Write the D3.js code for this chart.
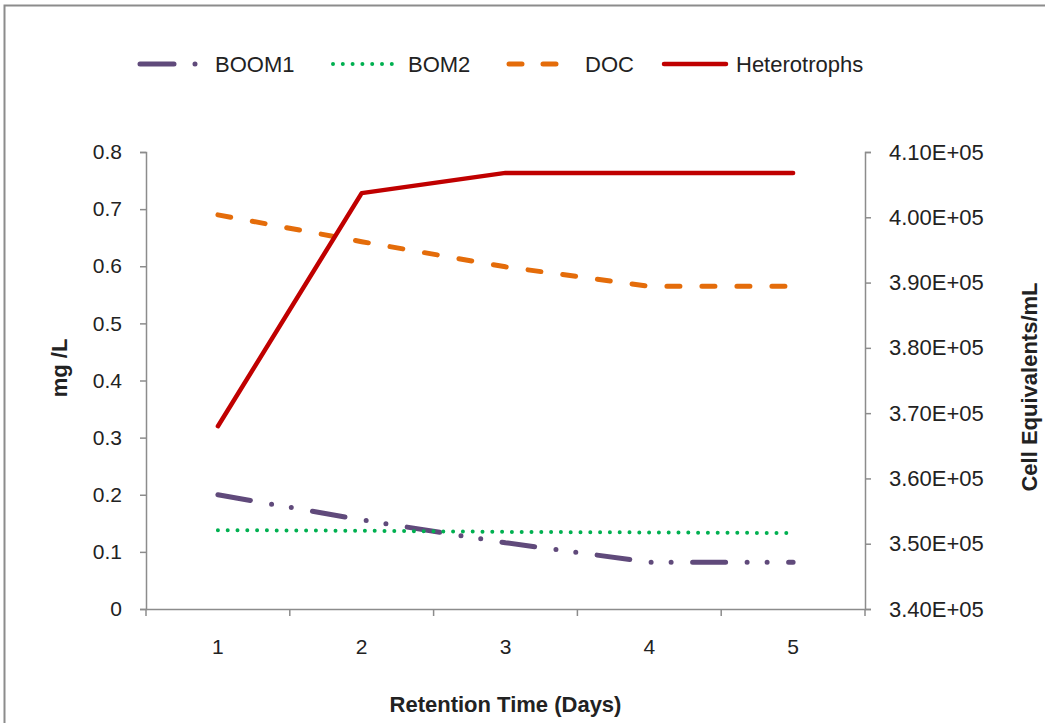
<!DOCTYPE html>
<html>
<head>
<meta charset="utf-8">
<script src="https://cdn.jsdelivr.net/npm/d3@7"></script>
<style>
  body { margin: 0; background: #fff; }
  text { font-family: "Liberation Sans", Arial, sans-serif; fill: #222; }
</style>
</head>
<body>
<div id="chart"></div>
<script>
const days = [1, 2, 3, 4, 5];
const boom1 = [0.2, 0.156, 0.116, 0.082, 0.082];
const bom2 = [0.138, 0.137, 0.135, 0.134, 0.133];
const doc = [0.69, 0.643, 0.599, 0.565, 0.565];
const heterotrophs = [368000, 403700, 406800, 406800, 406800];
const leftTicks = [0, 0.1, 0.2, 0.3, 0.4, 0.5, 0.6, 0.7, 0.8];
const rightTicks = [340000, 350000, 360000, 370000, 380000, 390000, 400000, 410000];

const W = 1045, H = 723;
const margin = { top: 152, right: 180, bottom: 114, left: 146 };
const width = W - margin.left - margin.right;
const height = H - margin.top - margin.bottom;

const svg = d3.select("#chart").append("svg")
    .attr("width", W)
    .attr("height", H);

// frame round the chart area
svg.append("rect")
    .attr("x", 4.5).attr("y", 5.5)
    .attr("width", W + 20).attr("height", H + 20)
    .attr("fill", "none")
    .attr("stroke", "#8c8c8c")
    .attr("stroke-width", 2);

const g = svg.append("g")
    .attr("transform", `translate(${margin.left},${margin.top})`);

const x = d3.scaleBand().domain(days).range([0, width]);
const xc = d => x(d) + x.bandwidth() / 2;
const yL = d3.scaleLinear().domain([0, 0.8]).range([height, 0]);
const yR = d3.scaleLinear().domain([340000, 410000]).range([height, 0]);

const axisColor = "#8c8c8c";
const tickFont = "21px";

// x axis with ticks at band edges
const xAxis = g.append("g")
    .attr("transform", `translate(0,${height})`)
    .call(d3.axisBottom(x).tickSize(0).tickPadding(30));
xAxis.select(".domain").attr("stroke", axisColor).attr("stroke-width", 1.5);
xAxis.selectAll("text").style("font-size", tickFont).attr("fill", "#222");
xAxis.selectAll(".edge")
    .data(d3.range(days.length + 1))
    .enter().append("line")
    .attr("x1", i => i * x.bandwidth()).attr("x2", i => i * x.bandwidth())
    .attr("y1", 0).attr("y2", 7)
    .attr("stroke", axisColor).attr("stroke-width", 1.5);

const yAxisL = g.append("g")
    .call(d3.axisLeft(yL).tickValues(leftTicks).tickSize(6).tickPadding(18)
        .tickFormat(d => d === 0 ? "0" : d3.format(".1f")(d)));
yAxisL.select(".domain").attr("stroke", axisColor).attr("stroke-width", 1.5);
yAxisL.selectAll(".tick line").attr("stroke", axisColor).attr("stroke-width", 1.5);
yAxisL.selectAll("text").style("font-size", tickFont).attr("fill", "#222");

const yAxisR = g.append("g")
    .attr("transform", `translate(${width},0)`)
    .call(d3.axisRight(yR).tickValues(rightTicks).tickSize(6).tickPadding(18)
        .tickFormat(d => (d / 1e5).toFixed(2) + "E+05"));
yAxisR.select(".domain").attr("stroke", axisColor).attr("stroke-width", 1.5);
yAxisR.selectAll(".tick line").attr("stroke", axisColor).attr("stroke-width", 1.5);
yAxisR.selectAll("text").style("font-size", "22px").attr("fill", "#222");

const series = [
    { name: "BOOM1", values: boom1, scale: yL, color: "#604a7b", width: 5, dash: "33,21.5,0,20,0,21.5", legendDash: "34,21,0,200", lx: 140, tx: 215 },
    { name: "BOM2", values: bom2, scale: yL, color: "#00b050", width: 4, dash: "0,9.8", legendDash: "0,9.8", lx: 333, tx: 408 },
    { name: "DOC", values: doc, scale: yL, color: "#e46c0a", width: 5, dash: "13,22", legendDash: "13,21", lx: 509, tx: 585 },
    { name: "Heterotrophs", values: heterotrophs, scale: yR, color: "#c00000", width: 4.5, dash: null, legendDash: null, lx: 664, tx: 736 }
];

series.forEach(s => {
    const line = d3.line()
        .x((d, i) => xc(days[i]))
        .y(d => s.scale(d));
    g.append("path")
        .datum(s.values)
        .attr("d", line)
        .attr("fill", "none")
        .attr("stroke", s.color)
        .attr("stroke-width", s.width)
        .attr("stroke-linecap", "round")
        .attr("stroke-linejoin", "round")
        .attr("stroke-dasharray", s.dash);
});

// legend
const legend = svg.append("g").attr("transform", "translate(0,64)");
series.forEach(s => {
    legend.append("line")
        .attr("x1", s.lx).attr("x2", s.lx + 62)
        .attr("y1", 0).attr("y2", 0)
        .attr("stroke", s.color)
        .attr("stroke-width", s.width)
        .attr("stroke-linecap", "round")
        .attr("stroke-dasharray", s.legendDash);
    legend.append("text")
        .attr("x", s.tx)
        .attr("y", 8)
        .style("font-size", "22px")
        .text(s.name);
});

// axis titles
svg.append("text")
    .attr("x", margin.left + width / 2)
    .attr("y", 712)
    .attr("text-anchor", "middle")
    .style("font-size", "22px")
    .style("font-weight", "bold")
    .text("Retention Time (Days)");

svg.append("text")
    .attr("transform", "translate(67,368) rotate(-90)")
    .attr("text-anchor", "middle")
    .style("font-size", "22px")
    .style("font-weight", "bold")
    .text("mg /L");

svg.append("text")
    .attr("transform", "translate(1037,387) rotate(-90)")
    .attr("text-anchor", "middle")
    .style("font-size", "22px")
    .style("font-weight", "bold")
    .text("Cell Equivalents/mL");
</script>
</body>
</html>
